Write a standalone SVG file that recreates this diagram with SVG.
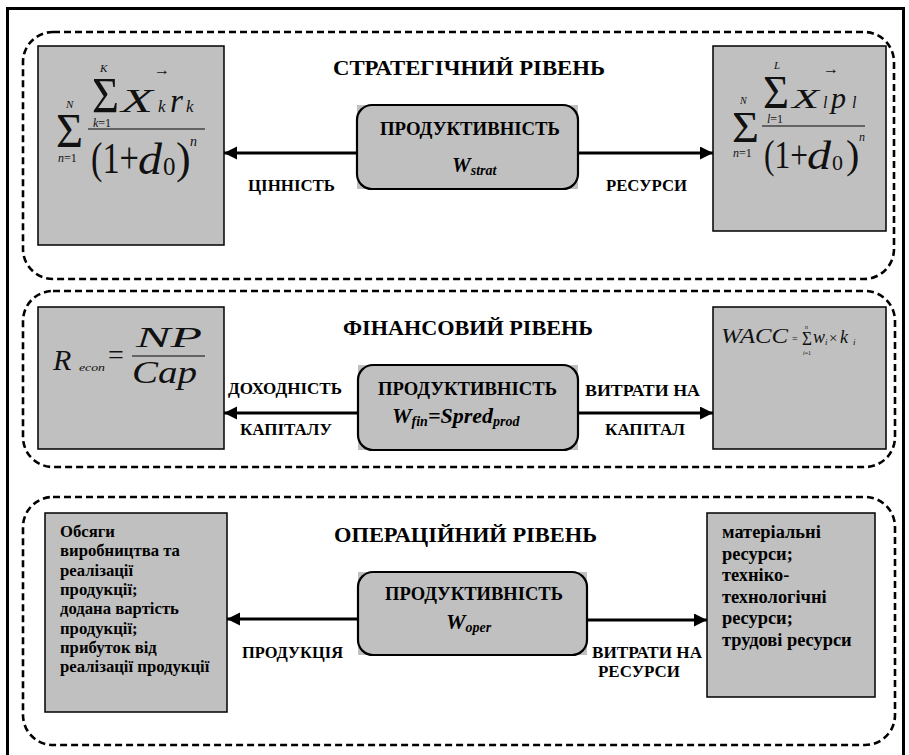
<svg xmlns="http://www.w3.org/2000/svg" width="909" height="755" viewBox="0 0 909 755" font-family="Liberation Serif, serif">
<style>
text{font-family:'Liberation Serif',serif;fill:#000}
.b{font-weight:bold}
.i{font-style:italic}
.f text{fill:#111}
.box{fill:#c0c0c0;stroke:#000;stroke-width:1.5}
.cbg{fill:#c0c0c0}
.cbox{fill:#c0c0c0;stroke:#000;stroke-width:2.2}
.lvl{fill:none;stroke:#000;stroke-width:2.6;stroke-dasharray:7 4}
.frac{stroke:#444;stroke-width:1.5}
.conn{stroke:#000;stroke-width:3;fill:none;marker-end:url(#ah)}
.lab{font-weight:bold;font-size:16.5px}
.title{font-weight:bold;font-size:21px}
.head{font-weight:bold;font-size:18.5px}
.body{font-weight:bold}
</style>
<defs>
<marker id="ah" markerUnits="userSpaceOnUse" markerWidth="14" markerHeight="14" refX="13" refY="6.5" orient="auto">
<path d="M0,0 L13,6.5 L0,13 z" fill="#000"/>
</marker>
</defs>
<rect width="909" height="755" fill="#fff"/>
<rect x="7.5" y="8.5" width="896" height="770" fill="none" stroke="#000" stroke-width="3"/>

<g id="level-strategic">
<rect class="lvl" x="23" y="32" width="871" height="247" rx="30"/>
<text class="title" x="333" y="75" textLength="272" lengthAdjust="spacingAndGlyphs">СТРАТЕГІЧНИЙ РІВЕНЬ</text>
</g>
<g id="level-financial">
<rect class="lvl" x="23" y="291" width="872" height="176" rx="30"/>
<text class="title" x="343" y="335" textLength="250" lengthAdjust="spacingAndGlyphs">ФІНАНСОВИЙ РІВЕНЬ</text>
</g>
<g id="level-operational">
<rect class="lvl" x="23" y="497" width="872" height="248" rx="30"/>
<text class="title" x="334" y="542" textLength="263" lengthAdjust="spacingAndGlyphs">ОПЕРАЦІЙНИЙ РІВЕНЬ</text>
</g>

<g id="connectors">
<line class="conn" x1="357" y1="153" x2="224" y2="153"/>
<line class="conn" x1="578" y1="153" x2="713" y2="153"/>
<line class="conn" x1="358" y1="413" x2="224" y2="413"/>
<line class="conn" x1="578" y1="413" x2="713" y2="413"/>
<line class="conn" x1="358" y1="619" x2="227" y2="619"/>
<line class="conn" x1="587" y1="620" x2="707" y2="620"/>
<text class="lab" x="248" y="191" textLength="87" lengthAdjust="spacingAndGlyphs">ЦІННІСТЬ</text>
<text class="lab" x="606" y="191" textLength="81" lengthAdjust="spacingAndGlyphs">РЕСУРСИ</text>
<text class="lab" x="228" y="394" textLength="114" lengthAdjust="spacingAndGlyphs">ДОХОДНІСТЬ</text>
<text class="lab" x="240" y="435" textLength="92" lengthAdjust="spacingAndGlyphs">КАПІТАЛУ</text>
<text class="lab" x="585" y="396" textLength="115" lengthAdjust="spacingAndGlyphs">ВИТРАТИ НА</text>
<text class="lab" x="605" y="435" textLength="80" lengthAdjust="spacingAndGlyphs">КАПІТАЛ</text>
<text class="lab" x="242" y="658" textLength="101" lengthAdjust="spacingAndGlyphs">ПРОДУКЦІЯ</text>
<text class="lab" x="592" y="658" textLength="110" lengthAdjust="spacingAndGlyphs">ВИТРАТИ НА</text>
<text class="lab" x="598" y="677" textLength="82" lengthAdjust="spacingAndGlyphs">РЕСУРСИ</text>
</g>

<g id="strat-value">
<rect class="box" x="38" y="46" width="186" height="199"/>
<g class="f">
<text x="56" y="147" font-size="48" textLength="27" lengthAdjust="spacingAndGlyphs">Σ</text>
<text x="66" y="108" class="i" font-size="11">N</text>
<text x="58" y="162" font-size="12"><tspan class="i">n</tspan>=1</text>
<text x="92" y="112" font-size="50" textLength="27" lengthAdjust="spacingAndGlyphs">Σ</text>
<text x="100" y="72" class="i" font-size="11">K</text>
<text x="93" y="127" font-size="12"><tspan class="i">k</tspan>=1</text>
<text x="154" y="75" font-size="16">→</text>
<text x="121" y="112" class="i" font-size="33" textLength="32" lengthAdjust="spacingAndGlyphs">X</text>
<text x="158" y="112" class="i" font-size="17">k</text>
<text x="170" y="112" class="i" font-size="33">r</text>
<text x="186" y="112" class="i" font-size="17">k</text>
<line class="frac" x1="88" y1="129" x2="205" y2="129"/>
<text x="91" y="173" font-size="44" textLength="48" lengthAdjust="spacingAndGlyphs">(1+</text>
<text x="138" y="174" class="i" font-size="44" textLength="24" lengthAdjust="spacingAndGlyphs">d</text>
<text x="163" y="175" font-size="25">0</text>
<text x="176" y="173" font-size="44">)</text>
<text x="190" y="146" class="i" font-size="14">n</text>
</g>
</g>

<g id="strat-productivity">
<rect class="cbg" x="357" y="105" width="221" height="84"/>
<rect class="cbox" x="357" y="105" width="221" height="84" rx="15"/>
<text class="head" x="380" y="135" textLength="180" lengthAdjust="spacingAndGlyphs">ПРОДУКТИВНІСТЬ</text>
<text class="b i" x="452" y="172" font-size="21">W<tspan font-size="14" dy="3">strat</tspan></text>
</g>

<g id="strat-resources">
<rect class="box" x="713" y="46" width="173" height="185"/>
<g class="f">
<text x="732" y="142" font-size="45" textLength="27" lengthAdjust="spacingAndGlyphs">Σ</text>
<text x="740" y="104" class="i" font-size="10">N</text>
<text x="733" y="157" font-size="12"><tspan class="i">n</tspan>=1</text>
<text x="763" y="108" font-size="47" textLength="26" lengthAdjust="spacingAndGlyphs">Σ</text>
<text x="774" y="69" class="i" font-size="11">L</text>
<text x="823" y="74" font-size="16">→</text>
<text x="792" y="108" class="i" font-size="28" textLength="27" lengthAdjust="spacingAndGlyphs">X</text>
<text x="823" y="108" class="i" font-size="16">l</text>
<text x="831" y="108" class="i" font-size="30">p</text>
<text x="852" y="108" class="i" font-size="16">l</text>
<text x="767" y="123" font-size="12"><tspan class="i">l</tspan>=1</text>
<line class="frac" x1="762" y1="126" x2="865" y2="126"/>
<text x="764" y="168" font-size="40" textLength="44" lengthAdjust="spacingAndGlyphs">(1+</text>
<text x="807" y="169" class="i" font-size="40" textLength="24" lengthAdjust="spacingAndGlyphs">d</text>
<text x="832" y="170" font-size="22">0</text>
<text x="846" y="168" font-size="40">)</text>
<text x="859" y="141" class="i" font-size="12">n</text>
</g>
</g>

<g id="fin-return">
<rect class="box" x="38" y="307" width="186" height="142"/>
<g class="f">
<text x="53" y="370" class="i" font-size="30">R</text>
<text x="79" y="371" class="i" font-size="11" textLength="26" lengthAdjust="spacingAndGlyphs">econ</text>
<text x="108" y="364" font-size="28">=</text>
<line class="frac" x1="132" y1="356" x2="205" y2="356"/>
<text x="136" y="347" class="i" font-size="30" textLength="66" lengthAdjust="spacingAndGlyphs">NP</text>
<text x="132" y="383" class="i" font-size="32" textLength="65" lengthAdjust="spacingAndGlyphs">Cap</text>
</g>
</g>

<g id="fin-productivity">
<rect class="cbg" x="358" y="365" width="220" height="85"/>
<rect class="cbox" x="358" y="365" width="220" height="85" rx="15"/>
<text class="head" x="378" y="395" textLength="179" lengthAdjust="spacingAndGlyphs">ПРОДУКТИВНІСТЬ</text>
<text class="b i" x="392" y="423" font-size="22">W<tspan font-size="14" dy="3">fin</tspan><tspan font-size="22" dy="-3">=Spred</tspan><tspan font-size="14" dy="3">prod</tspan></text>
</g>

<g id="fin-wacc">
<rect class="box" x="713" y="307" width="173" height="142"/>
<g class="f">
<text x="721" y="343" class="i" font-size="22" textLength="67" lengthAdjust="spacingAndGlyphs">WACC</text>
<text x="792" y="342" font-size="10">=</text>
<text x="802" y="345" font-size="18" textLength="10" lengthAdjust="spacingAndGlyphs">Σ</text>
<text x="805" y="329" class="i" font-size="6">n</text>
<text x="803" y="355" font-size="6"><tspan class="i">i</tspan>=1</text>
<text x="813" y="343" class="i" font-size="18">w</text>
<text x="825" y="345" class="i" font-size="9">i</text>
<text x="829" y="343" font-size="15">×</text>
<text x="840" y="343" class="i" font-size="18">k</text>
<text x="853" y="345" class="i" font-size="9">i</text>
</g>
</g>

<g id="oper-output">
<rect class="box" x="45" y="513" width="182" height="199"/>
<text class="body" font-size="16.7">
<tspan x="60" y="537">Обсяги</tspan>
<tspan x="60" y="556.3">виробництва та</tspan>
<tspan x="60" y="575.6">реалізації</tspan>
<tspan x="60" y="594.9">продукції;</tspan>
<tspan x="60" y="614.2">додана вартість</tspan>
<tspan x="60" y="633.5">продукції;</tspan>
<tspan x="60" y="652.8">прибуток від</tspan>
<tspan x="60" y="672.1">реалізації продукції</tspan>
</text>
</g>

<g id="oper-productivity">
<rect class="cbg" x="358" y="572" width="229" height="83"/>
<rect class="cbox" x="358" y="572" width="229" height="83" rx="15"/>
<text class="head" x="385" y="600" textLength="178" lengthAdjust="spacingAndGlyphs">ПРОДУКТИВНІСТЬ</text>
<text class="b i" x="446" y="629" font-size="22">W<tspan font-size="14" dy="3">oper</tspan></text>
</g>

<g id="oper-resources">
<rect class="box" x="707" y="513" width="168" height="184"/>
<text class="body" font-size="18.4">
<tspan x="722" y="538">матеріальні</tspan>
<tspan x="722" y="559.5">ресурси;</tspan>
<tspan x="722" y="581">техніко-</tspan>
<tspan x="722" y="602.5">технологічні</tspan>
<tspan x="722" y="624">ресурси;</tspan>
<tspan x="722" y="645.5">трудові ресурси</tspan>
</text>
</g>
</svg>
